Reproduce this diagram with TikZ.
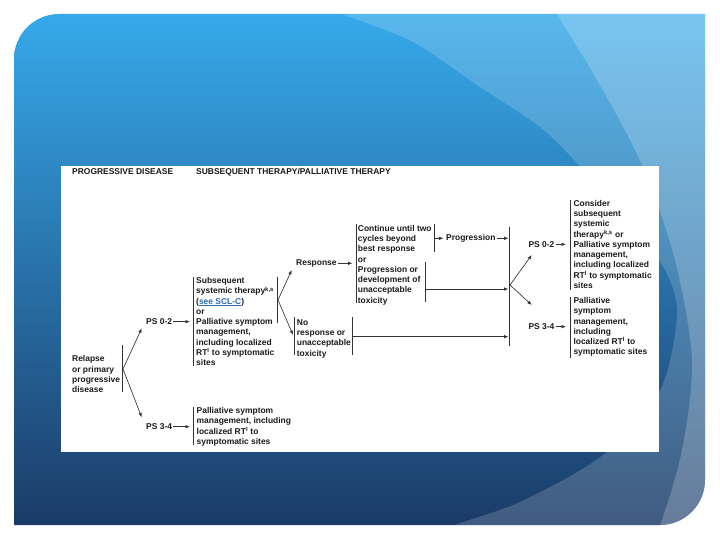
\documentclass[tikz,border=0pt]{standalone}
\usepackage{fontspec}
\setmainfont{Liberation Sans}
\usetikzlibrary{arrows.meta}
\definecolor{bgtop}{HTML}{36A9EA}
\definecolor{bgbot}{HTML}{1B3B68}
\definecolor{ink}{HTML}{1A1A1A}
\definecolor{wire}{HTML}{333333}
\definecolor{linkblue}{HTML}{2A6CB8}
\newcommand{\fsz}{\fontsize{8.45}{10.25}\selectfont\bfseries}
\begin{document}
\begin{tikzpicture}[x=1pt,y=-1pt,
 txt/.style={anchor=north west, inner sep=0pt, align=left, font=\fsz, text=ink},
 lbl/.style={anchor=west, inner sep=0pt, font=\fsz, text=ink},
 bar/.style={draw=wire, line width=0.65pt},
 arr/.style={draw=wire, line width=0.65pt, -{Latex[length=4.4pt,width=3.4pt]}},
]
\useasboundingbox (0,0) rectangle (720,540);
\fill[white] (0,0) rectangle (720,540);
% background
\def\bgshape{(14,525) -- (14,59) arc(180:90:45pt) -- (705,14) -- (705,480) arc(0:-90:45pt) -- cycle}
\path[top color=bgtop, bottom color=bgbot] \bgshape;
\begin{scope}
\clip \bgshape;
\fill[white, opacity=0.17] plot[smooth] coordinates {(290,-8) (342,14) (413,42) (480,87) (540,127) (577,163) (628,220) (665,270) (677,315) (660,390) (603,455) (520,502) (450,527) (380,560)} -- (800,560) -- (800,-30) -- cycle;
\fill[white, opacity=0.2] plot[smooth] coordinates {(535,-25) (557,14) (600,85) (643,167) (675,260) (692,360) (682,450) (660,525) (640,560)} -- (800,560) -- (800,-30) -- cycle;
\end{scope}
% panel
\fill[white] (61,166) rectangle (659,452);

% headers
\node[lbl] (h1) at (72,172) {PROGRESSIVE DISEASE};
\node[lbl] (h2) at (196,172) {SUBSEQUENT THERAPY/PALLIATIVE THERAPY};

% nodes
\node[txt] (relapse) at (72,354.6) {\strut Relapse\\or primary\\progressive\\disease};
\node[lbl] (ps02a) at (146,321.7) {PS 0-2};
\node[lbl] (ps34a) at (146,426.7) {PS 3-4};
\node[txt] (box1) at (196,276.3) {\strut Subsequent\\systemic therapy\textsuperscript{k,s}\\(\textcolor{linkblue}{\underline{see SCL-C}})\\or\\Palliative symptom\\management,\\including localized\\RT\textsuperscript{l} to symptomatic\\sites};
\node[txt] (box2) at (196.5,406.3) {\strut Palliative symptom\\management, including\\localized RT\textsuperscript{l} to\\symptomatic sites};
\node[lbl] (resp) at (296,263.3) {Response};
\node[txt] (noresp) at (296.7,317.9) {\strut No\\response or\\unacceptable\\toxicity};
\node[txt] (cont) at (357.7,223.9) {\strut Continue until two\\cycles beyond\\best response\\or\\Progression or\\development of\\unacceptable\\toxicity};
\node[lbl] (prog) at (446,238.3) {Progression};
\node[lbl] (ps02b) at (528.3,244.3) {PS 0-2};
\node[lbl] (ps34b) at (528.3,326.7) {PS 3-4};
\node[txt] (rbox1) at (573.3,198.9) {\strut Consider\\subsequent\\systemic\\therapy\textsuperscript{k,s} or\\Palliative symptom\\management,\\including localized\\RT\textsuperscript{l} to symptomatic\\sites};
\node[txt] (rbox2) at (573.3,296.3) {\strut Palliative\\symptom\\management,\\including\\localized RT\textsuperscript{l} to\\symptomatic sites};

% bars
\draw[bar] (122.3,345) -- (122.3,392);
\draw[bar] (193.5,276.7) -- (193.5,365.7);
\draw[bar] (277.3,276.7) -- (277.3,323);
\draw[bar] (193.7,406.7) -- (193.7,445);
\draw[bar] (294.3,317.3) -- (294.3,355);
\draw[bar] (352.3,317.3) -- (352.3,355);
\draw[bar] (356,224) -- (356,302.7);
\draw[bar] (434,224) -- (434,252.3);
\draw[bar] (425,261.7) -- (425,302.3);
\draw[bar] (509.3,226.7) -- (509.3,345.5);
\draw[bar] (570,200) -- (570,290);
\draw[bar] (570,296.7) -- (570,358);

% fork points
\coordinate (f1) at (123,369);
\coordinate (f2) at (278,300);
\coordinate (f3) at (510,285);

% arrows
\draw[arr] (f1) -- ([shift={(-4.3,6.6)}]ps02a.west);
\draw[arr] (f1) -- ([shift={(-4.3,-9.4)}]ps34a.west);
\draw[arr] ([xshift=1pt]ps02a.east) -- (190,321.7);
\draw[arr] ([xshift=1pt]ps34a.east) -- (190,426.7);
\draw[arr] (f2) -- ([shift={(-4.3,6.7)}]resp.west);
\draw[arr] (f2) -- (293,335);
\draw[arr] ([xshift=1pt]resp.east) -- (352.5,263.3);
\draw[arr] (434,238.3) -- ([xshift=-2.5pt]prog.west);
\draw[arr] ([xshift=1pt]prog.east) -- (508.5,238.3);
\draw[arr] (425,289) -- (508.5,289);
\draw[arr] (352.3,336.7) -- (508.5,336.7);
\draw[arr] (f3) -- ([shift={(3.4,10.7)}]ps02b.west);
\draw[arr] (f3) -- ([shift={(3.4,-21.7)}]ps34b.west);
\draw[arr] ([xshift=1pt]ps02b.east) -- (566,244.3);
\draw[arr] ([xshift=1pt]ps34b.east) -- (566,326.7);
\end{tikzpicture}
\end{document}
